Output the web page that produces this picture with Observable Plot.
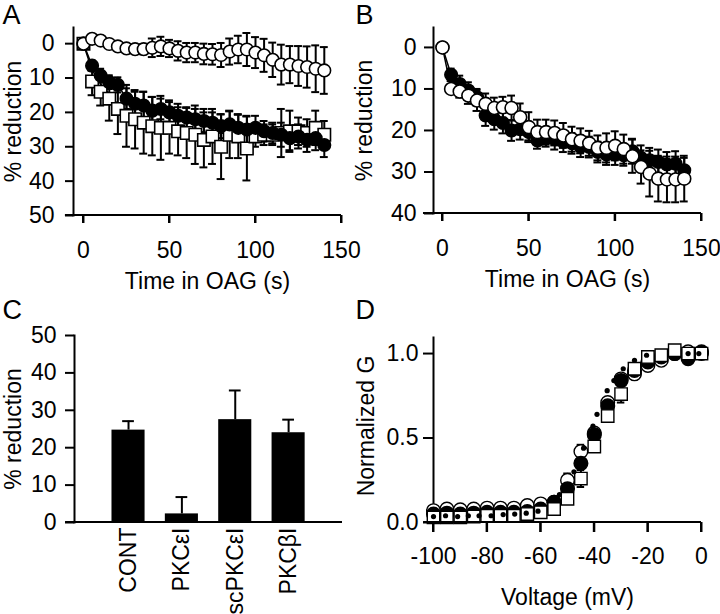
<!DOCTYPE html>
<html><head><meta charset="utf-8">
<script src="https://cdn.jsdelivr.net/npm/d3@7"></script>
<script src="https://cdn.jsdelivr.net/npm/@observablehq/plot@0.6"></script>
<style>
body{margin:0;background:#fff;}
#fig{position:relative;width:720px;height:614px;overflow:hidden;background:#fff;}
.panel{position:absolute;}
</style></head><body><div id="fig"></div>
<script>
// ---------- data ----------
const timeS = [0,5,10,15,20,25,30,35,40,45,50,55,60,65,70,75,80,85,90,95,100,105,110,115,120,125,130,135,140];
// Panel A
const openA   = [0,-1.4,-0.9,0.1,0.8,1.4,1.6,1.6, 1.2,0.8,1.4,2.1,2.6,2.6,3.0,3.1, 3.3,2.3,1.7,1.7,2.6,3.4,4.7,6.1, 6.1,6.5,6.8,7.3,7.8];
const openAse = [0,1,1,0.8,0.8,1,1,1.5, 2.7,2.8,2.5,2.8,2.8,2.8,3,3, 3.5,3.8,4,4.8,4.5,4.8,5,5.8, 5.4,5.8,6,6.8,6.8];
const filledA   = [0,6.4,9.3,11.2,12,16,17.5,18, 19.5,19,20,21,21.5,22,22.5,23, 24,23.5,24.5,25,24.5,25.5,26,26.5, 27.5,27,28,27.5,29.5];
const filledAse = [0,1.5,2,2,2.2,3,3.5,4, 4,3,3.5,3.5,3,3,3.5,3, 3.5,4,4,4,3.5,3,3,3.5, 3.5,3.5,3.5,3.5,3.5];
const squareA   = [0,11,14,16,19,21,22,23, 24,24.5,24.5,25.5,26,26.5,28,27, 30,26.5,27,30.5,27,26.5,26.5,26, 25.5,25.5,26,24.5,26.5];
const squareAse = [0,4,4,6.4,7.3,9,8.5,9, 8.5,9.3,7.5,7,7.3,8.5,8,8, 9.4,6.8,6.3,9.3,3,3,3,7, 6,4,4,5,4];
const fitAt = [0,5,10,15,20,30,40,50,60,75,100,140];
const fitAv = [0,7.4,11.7,14.6,17.5,20.9,22.9,24.3,25.3,25.9,26.3,26.5];
// Panel B
const openB   = [0,10,10.6,11.6,12.8,13.6,14.6,14.4, 14.6,16.8,19.2,20.4,20.4,20.6,21.2,22.1, 22.5,23.1,24.2,24.2,23.7,24.5,26.2,28.8, 30.4,31.6,31.8,31.8,31.6];
const openBse = [0,1,1.5,2,2.5,2.5,2.5,2.5, 3,3.3,3.6,3,3,3,3,3, 3,3,3,3.5,3.5,3.5,4,4, 5.5,5.5,5.5,5.5,5.5];
const filledB   = [0,6.6,8.8,10.4,12,16.4,17.3,18.2, 20,19.7,20.4,22.4,21.9,22.1,22.7,23.1, 23.9,24,25.2,25.8,25.8,26,25,26.6, 27.2,27.6,28.2,28,29.6];
const filledBse = [0,1.5,2,2,2,2.5,2.5,2.5, 2.5,2.5,2,2,2,2.5,2.5,2.5, 2.5,2.5,2.5,2.5,2.5,2.5,3,3, 3,3,3,3,3];
// Panel C
const groups = ["CONT","PKCεI","scPKCεI","PKCβI"];
const groupMean = [24.7, 2.3, 27.5, 24.0];
const groupSem  = [2.4, 4.5, 7.8, 3.5];
// Panel D
const voltage = [-100,-95,-90,-85,-80,-75,-70,-65,-60,-55,-50,-45,-40,-35,-30,-25,-20,-15,-10,-5,0];
const gFilled = [0.05,0.055,0.05,0.055,0.06,0.06,0.06,0.065,0.08,0.12,0.20,0.35,0.52,0.69,0.84,0.90,0.95,0.98,1.00,0.97,1.01];
const gOpen   = [0.07,0.08,0.075,0.08,0.085,0.085,0.085,0.10,0.11,0.12,0.25,0.42,0.53,0.71,0.85,0.88,0.93,0.96,1.00,1.01,1.00];
const gOpenSe = [0,0,0,0,0,0.02,0,0.02,0.03,0,0.04,0.04,0.03,0,0,0,0,0,0,0,0];
const gSquare = [0.03,0.03,0.03,0.035,0.04,0.04,0.04,0.05,0.06,0.08,0.14,0.26,0.45,0.63,0.76,0.91,0.98,0.99,1.02,1.00,1.00];
const gSquareSe = [0,0,0,0,0,0,0,0,0,0,0,0.05,0.03,0,0.05,0,0,0,0,0,0];
const dotV = [-100,-95.5,-91,-87,-83,-78.5,-74,-69.7,-65.4,-61,-53,-47.6,-44,-40.5,-39,-35.2,-32.7,-29.2,-25,-20.5,-5,-1];
const dotG = [0.035,0.04,0.035,0.04,0.04,0.04,0.047,0.05,0.055,0.067,0.165,0.30,0.44,0.57,0.64,0.78,0.84,0.91,0.96,0.99,1.0,1.0];
// tick values
const ticksTimeX = [0,50,100,150];
const ticksA_Y = [0,10,20,30,40,50];
const ticksB_Y = [0,10,20,30,40];
const ticksC_Y = [0,10,20,30,40,50];
const ticksD_X = [-100,-80,-60,-40,-20,0];
const ticksD_Y = [0,0.5,1];

// ---------- helpers ----------
const FONT = '"Liberation Sans", Arial, Helvetica, sans-serif';
const FS = 23;
const rows = (xs, ys, es) => xs.map((x, i) => ({x, y: ys[i], e: es ? es[i] : 0}));
function errorBars(data, cap) {
  const d = data.filter(r => r.e > 0);
  return [
    Plot.ruleX(d, {x: "x", y1: r => r.y - r.e, y2: r => r.y + r.e, strokeWidth: 2}),
    Plot.ruleY(d, {x1: r => r.x - cap, x2: r => r.x + cap, y: r => r.y - r.e, strokeWidth: 2}),
    Plot.ruleY(d, {x1: r => r.x - cap, x2: r => r.x + cap, y: r => r.y + r.e, strokeWidth: 2})
  ];
}
// x-axis baseline and tick marks, positioned through the plot's own scales
function xAxisLine(plot, yBase, xStart, xEnd, ticks, tickLen) {
  const sx = plot.scale("x"), sy = plot.scale("y");
  const X = v => sx.apply(v), Y = sy.apply(yBase);
  const g = d3.select(plot).append("g").attr("stroke", "black").attr("stroke-width", 2).attr("fill", "none");
  g.append("line").attr("x1", X(xStart)).attr("x2", X(xEnd)).attr("y1", Y).attr("y2", Y);
  for (const t of ticks) g.append("line").attr("x1", X(t)).attr("x2", X(t)).attr("y1", Y).attr("y2", Y + tickLen);
}
function place(plot, left, top) {
  const div = document.createElement("div");
  div.className = "panel";
  div.style.left = left + "px";
  div.style.top = top + "px";
  div.appendChild(plot);
  document.getElementById("fig").appendChild(div);
}
const baseStyle = {fontFamily: FONT, fontSize: FS + "px", overflow: "visible", background: "transparent", color: "black"};
function labels(letter, lx, ly, xTitle, xdy, yTitle, ydx, ydy, mL, mT) {
  return [
    Plot.text([letter], {frameAnchor: "top-left", text: d => d, dx: lx - mL, dy: ly - mT, textAnchor: "start", lineAnchor: "top", fontSize: 27}),
    Plot.text([xTitle], {frameAnchor: "bottom", text: d => d, dy: xdy, textAnchor: "middle", lineAnchor: "top", fontSize: FS}),
    Plot.text([yTitle], {frameAnchor: "left", text: d => d, dx: ydx, dy: ydy, rotate: -90, textAnchor: "middle", lineAnchor: "top", fontSize: FS})
  ];
}

// ---------- Panel A ----------
{
  const o = rows(timeS, openA, openAse), f = rows(timeS, filledA, filledAse), s = rows(timeS, squareA, squareAse);
  const fit = rows(fitAt, fitAv);
  const p = Plot.plot({
    width: 360, height: 310, marginLeft: 73, marginRight: 19, marginTop: 27, marginBottom: 95,
    style: baseStyle,
    x: {domain: [-5.8, 150]},
    y: {domain: [-4.7, 50], reverse: true},
    marks: [
      Plot.frame({anchor: "left", strokeWidth: 2}),
      Plot.axisY({ticks: ticksA_Y, tickSize: 8, tickPadding: 11, label: null, fontSize: FS, strokeWidth: 2}),
      Plot.axisX({ticks: ticksTimeX, tickSize: 8, tickPadding: 18, label: null, fontSize: FS, strokeWidth: 2}),
      Plot.line(fit, {x: "x", y: "y", curve: "natural", strokeWidth: 1.5}),
      Plot.line(o, {x: "x", y: "y", strokeWidth: 1.5}),
      Plot.line(f, {x: "x", y: "y", strokeWidth: 1.5}),
      ...errorBars(f, 2.3),
      ...errorBars(s, 2.3),
      Plot.dot(s, {x: "x", y: "y", symbol: "square", r: 7, fill: "white", stroke: "black", strokeWidth: 1.6}),
      Plot.dot(f, {x: "x", y: "y", r: 6.3, fill: "black", stroke: "black"}),
      ...errorBars(o, 2.3),
      Plot.dot(o, {x: "x", y: "y", r: 6.3, fill: "white", stroke: "black", strokeWidth: 1.6}),
      ...labels("A", 2, 4, "Time in OAG (s)", 57, "% reduction", -69, 0, 73, 27)
    ]
  });
  xAxisLine(p, 50, -10.5, 150, ticksTimeX, 8);
  place(p, 0, 0);
}

// ---------- Panel B ----------
{
  const o = rows(timeS, openB, openBse), f = rows(timeS, filledB, filledBse);
  const p = Plot.plot({
    width: 360, height: 310, marginLeft: 73, marginRight: 19, marginTop: 27, marginBottom: 97,
    style: baseStyle,
    x: {domain: [-5.2, 150]},
    y: {domain: [-4.8, 40], reverse: true},
    marks: [
      Plot.frame({anchor: "left", strokeWidth: 2}),
      Plot.axisY({ticks: ticksB_Y, tickSize: 9, tickPadding: 8, label: null, fontSize: FS, strokeWidth: 2}),
      Plot.axisX({ticks: ticksTimeX, tickSize: 8, tickPadding: 18, label: null, fontSize: FS, strokeWidth: 2}),
      Plot.line(f, {x: "x", y: "y", strokeWidth: 1.5}),
      Plot.line(o, {x: "x", y: "y", strokeWidth: 1.5}),
      ...errorBars(f, 2.3),
      Plot.dot(f, {x: "x", y: "y", r: 6.3, fill: "black", stroke: "black"}),
      ...errorBars(o, 2.3),
      Plot.dot(o, {x: "x", y: "y", r: 6.5, fill: "white", stroke: "black", strokeWidth: 1.6}),
      ...labels("B", -5, 4, "Time in OAG (s)", 57, "% reduction", -78, 0, 73, 27)
    ]
  });
  xAxisLine(p, 40, -11, 150, ticksTimeX, 8);
  place(p, 360, 0);
}

// ---------- Panel C ----------
{
  // categories sit at index positions 0..3 on a linear x scale
  const c = groups.map((g, i) => ({i, g, v: groupMean[i], e: groupSem[i]}));
  const half = 0.31, capHalf = 0.11;
  const p = Plot.plot({
    width: 360, height: 304, marginLeft: 74, marginRight: 18, marginTop: 25, marginBottom: 92,
    style: baseStyle,
    x: {domain: [-1.0125, 4.01]},
    y: {domain: [0, 50]},
    marks: [
      Plot.ruleX(c, {x: "i", y1: "v", y2: d => d.v + d.e, strokeWidth: 2}),
      Plot.ruleY(c, {x1: d => d.i - capHalf, x2: d => d.i + capHalf, y: d => d.v + d.e, strokeWidth: 2}),
      Plot.rectY(c, {x1: d => d.i - half, x2: d => d.i + half, y: "v", fill: "black"}),
      Plot.frame({anchor: "left", strokeWidth: 2}),
      Plot.axisY({ticks: ticksC_Y, tickSize: 9, tickPadding: 9, label: null, fontSize: FS, strokeWidth: 2}),
      Plot.axisX({ticks: [0,1,2,3], tickFormat: i => groups[i], tickSize: 0, tickPadding: 5, tickRotate: -90, label: null, fontSize: FS}),
      Plot.text(["C"], {frameAnchor: "top-left", text: d => d, dx: 2 - 74, dy: -11 - 25, textAnchor: "start", lineAnchor: "top", fontSize: 27}),
      Plot.text(["% reduction"], {frameAnchor: "left", text: d => d, dx: -70, rotate: -90, textAnchor: "middle", lineAnchor: "top", fontSize: FS})
    ]
  });
  xAxisLine(p, 0, -1.18, 4.01, [], 0);
  place(p, 0, 310);
}

// ---------- Panel D ----------
{
  const fl = rows(voltage, gFilled), op = rows(voltage, gOpen, gOpenSe), sq = rows(voltage, gSquare, gSquareSe);
  const dots = rows(dotV, dotG);
  const p = Plot.plot({
    width: 360, height: 304, marginLeft: 73, marginRight: 19, marginTop: 27, marginBottom: 92,
    style: baseStyle,
    x: {domain: [-100, 0]},
    y: {domain: [0, 1.095]},
    marks: [
      Plot.frame({anchor: "left", strokeWidth: 2}),
      Plot.axisY({ticks: ticksD_Y, tickFormat: d3.format(".1f"), tickSize: 10, tickPadding: 5, label: null, fontSize: FS, strokeWidth: 2}),
      Plot.axisX({ticks: ticksD_X, tickFormat: d => String(d), tickSize: 10, tickPadding: 15, label: null, fontSize: FS, strokeWidth: 2}),
      ...errorBars(op, 1.4),
      Plot.dot(op, {x: "x", y: "y", r: 6.8, fill: "white", stroke: "black", strokeWidth: 1.4}),
      Plot.dot(fl, {x: "x", y: "y", r: 6.8, fill: "black", stroke: "black"}),
      ...errorBars(sq, 1.4),
      Plot.dot(sq, {x: "x", y: "y", symbol: "square", r: 7, fill: "white", stroke: "black", strokeWidth: 1.4}),
      Plot.dot(dots, {x: "x", y: "y", r: 2.6, fill: "black", stroke: "none"}),
      ...labels("D", -5, -11, "Voltage (mV)", 66, "Normalized G", -76, -4, 73, 27)
    ]
  });
  xAxisLine(p, 0, -103.7, 0, ticksD_X, 10);
  place(p, 360, 310);
}
</script>
</body></html>
